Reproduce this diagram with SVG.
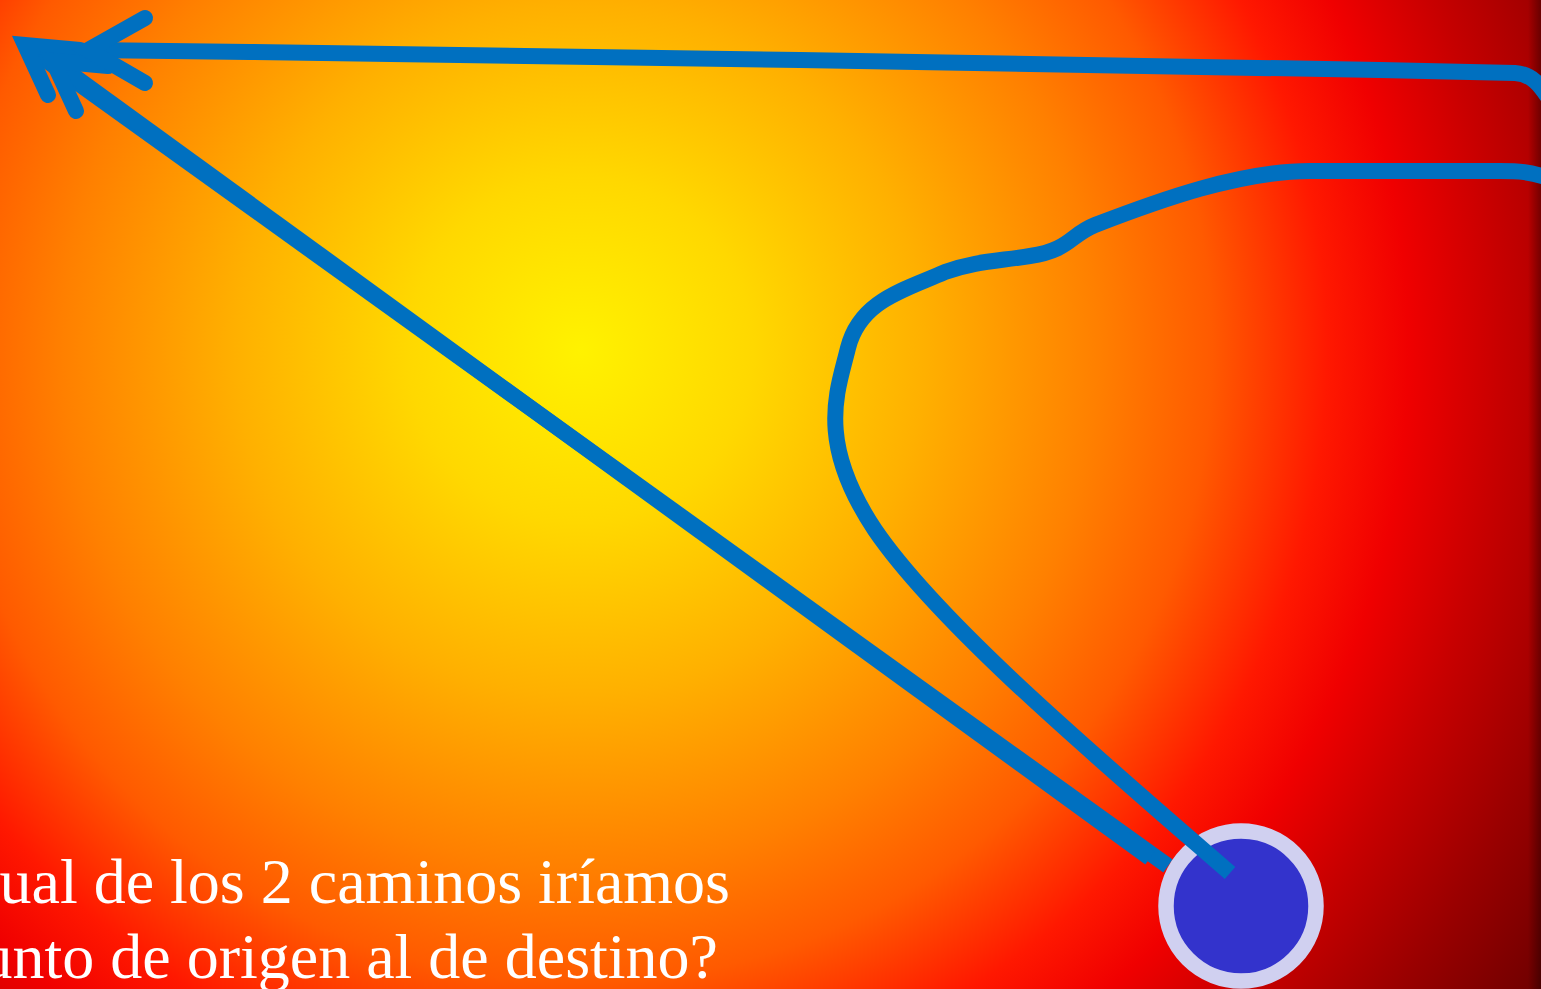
<svg xmlns="http://www.w3.org/2000/svg" width="1541" height="989" viewBox="0 0 1541 989">
  <defs>
    <radialGradient id="bg" gradientUnits="userSpaceOnUse" cx="580" cy="350" r="1150">
      <stop offset="0" stop-color="#fff200"/>
      <stop offset="0.15" stop-color="#ffd800"/>
      <stop offset="0.3" stop-color="#ffb000"/>
      <stop offset="0.45" stop-color="#ff8000"/>
      <stop offset="0.55" stop-color="#ff5a00"/>
      <stop offset="0.65" stop-color="#ff1800"/>
      <stop offset="0.72" stop-color="#f00000"/>
      <stop offset="0.8" stop-color="#c80000"/>
      <stop offset="0.9" stop-color="#9a0000"/>
      <stop offset="1" stop-color="#700000"/>
    </radialGradient>
    <linearGradient id="edge" x1="0" y1="0" x2="1" y2="0">
      <stop offset="0" stop-color="#000" stop-opacity="0"/>
      <stop offset="1" stop-color="#000" stop-opacity="0.35"/>
    </linearGradient>
  </defs>
  <style>
    .ln { fill: none; stroke: #0070c0; stroke-width: 16; }
    .v { fill: none; stroke: #0070c0; stroke-width: 16; stroke-linecap: round; stroke-linejoin: miter; stroke-miterlimit: 10; }
    .txt { font-family: "Liberation Serif", "Times New Roman", serif; font-size: 64px; fill: #ffffff; text-anchor: end; }
  </style>
  <rect x="0" y="0" width="1541" height="989" fill="url(#bg)"/>
  <rect x="1528" y="0" width="13" height="989" fill="url(#edge)"/>

  <g id="connectors">
    <path id="diag-a" class="ln" d="M1168,866 L25,45"/>
    <path id="diag-b" class="ln" d="M1150,858 L53,61"/>
  </g>

  <g id="origin">
    <circle cx="1241" cy="906" r="75" fill="#3333cc" stroke="#d0d0f0" stroke-width="15.5"/>
  </g>

  <g id="connectors-top">
    <path id="top-path" class="ln" d="M1550,100 C1540,85 1532,74 1515,73 L1380,70 L800,60 L250,52 L88,50"/>
    <path id="curvy-path" class="ln" d="M1545,177 C1530,172 1520,171 1500,171 L1310,171 C1240,171 1160,200 1095,225 C1070,235 1070,250 1030,256 C1000,261 975,261 945,272 C905,290 860,300 848,348 C838,390 815,440 875,530 C940,625 1100,760 1230,873"/>
    <polyline class="v" points="80,50 25,45 48,95"/>
    <polyline class="v" points="108,66 53,61 76,111"/>
    <polyline class="v" points="145,18 88,50 145,83"/>
  </g>

  <g id="question">
    <text class="txt" x="730" y="903">ual de los 2 caminos iríamos</text>
    <text class="txt" x="718" y="978">unto de origen al de destino?</text>
  </g>
</svg>
